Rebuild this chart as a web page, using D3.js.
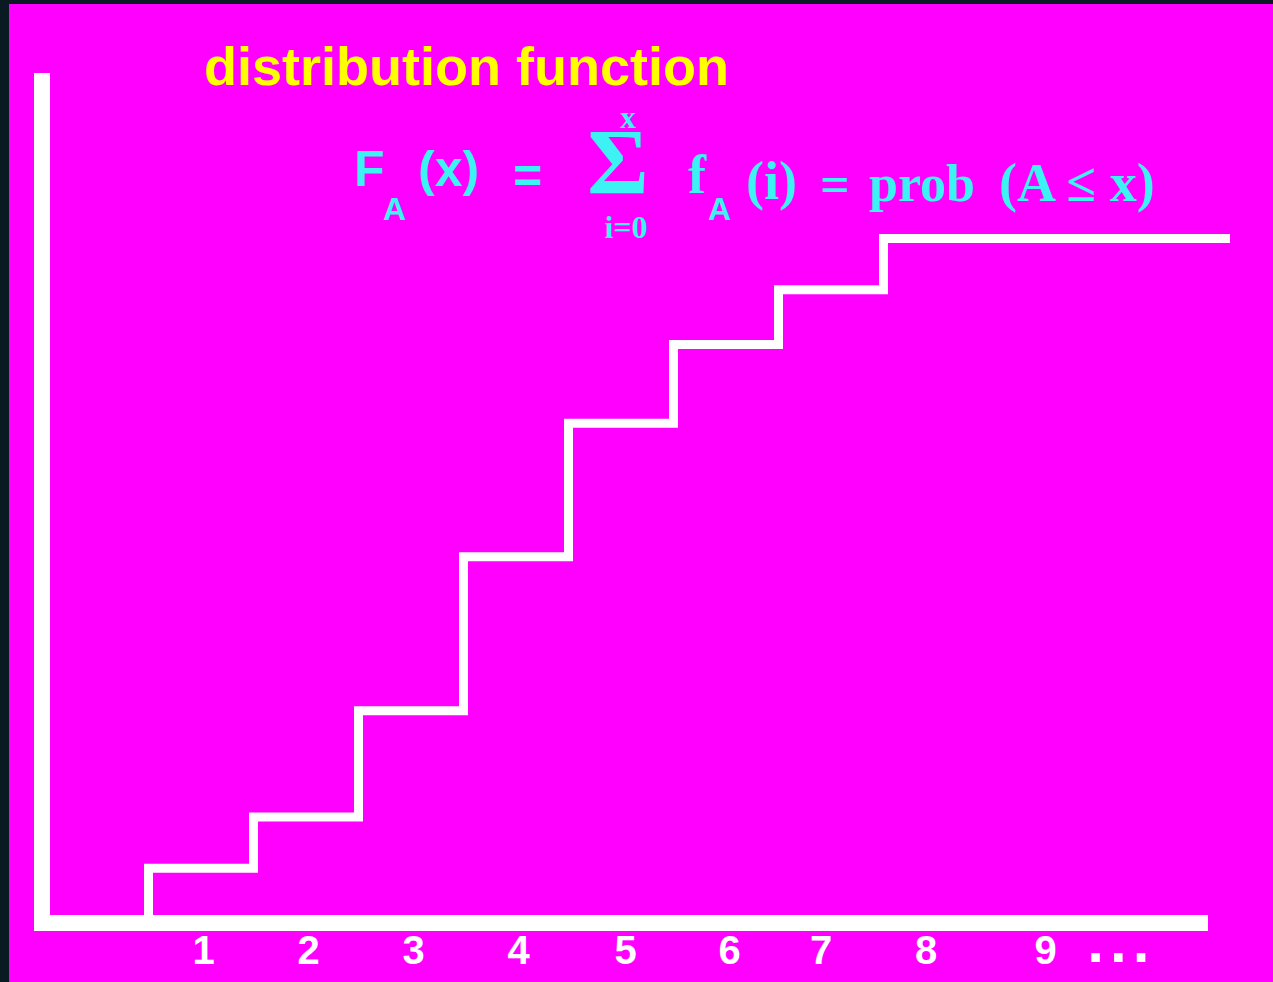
<!DOCTYPE html>
<html>
<head>
<meta charset="utf-8">
<script src="https://cdn.jsdelivr.net/npm/d3@7"></script>
<style>
  body { margin: 0; background: #0a1a22; }
  svg { display: block; }
</style>
</head>
<body>
<svg id="chart" width="1273" height="982"></svg>
<script>
// step positions (between the integer values) and cumulative probability after each step
const stepAt = [0.5, 1.5, 2.5, 3.5, 4.5, 5.5, 6.5, 7.5];
const cumProb = [0.08, 0.155, 0.31, 0.535, 0.73, 0.845, 0.925, 1.0];
const lineEnd = 10.8;

// x-axis labels and where they sit
const tickLabels = ["1", "2", "3", "4", "5", "6", "7", "8", "9", "..."];
const tickPos = [1.02, 2.02, 3.02, 4.02, 5.04, 6.03, 6.9, 7.9, 9.04, 9.76];

const titleText = "distribution function";

const svg = d3.select("#chart");
const W = 1273, H = 982;
const cyan = "#3cf2f2";
const sans = "'Liberation Sans', Arial, sans-serif";
const serif = "'Liberation Serif', 'Times New Roman', serif";

// magenta panel (dark strip left and top)
svg.append("rect")
  .attr("x", 9).attr("y", 4)
  .attr("width", W - 9).attr("height", H - 4)
  .attr("fill", "#ff00ff");

const x = d3.scaleLinear().domain([0.5, 7.5]).range([148.5, 883.5]);
const y = d3.scaleLinear().domain([0, 1]).range([923, 238.5]);

// axis frame placement
const axisX = 42, axisTop = 73, axisRight = 1208;

// step function
const pts = [[stepAt[0], 0]];
stepAt.forEach((s, i) => pts.push([s, cumProb[i]]));
pts.push([lineEnd, cumProb[cumProb.length - 1]]);

const line = d3.line()
  .x((d) => x(d[0]))
  .y((d) => y(d[1]))
  .curve(d3.curveStepAfter);

svg.append("path")
  .datum(pts)
  .attr("d", line)
  .attr("fill", "none")
  .attr("stroke", "#fff")
  .attr("stroke-width", 9)
  .attr("stroke-linejoin", "miter");

// L-shaped axes
svg.append("path")
  .attr("d", `M${axisX},${axisTop}V${y(0)}H${axisRight}`)
  .attr("fill", "none")
  .attr("stroke", "#fff")
  .attr("stroke-width", 16)
  .attr("stroke-linejoin", "miter");

// x labels through a bottom axis
const xAxis = d3.axisBottom(x)
  .tickValues(tickPos)
  .tickFormat((d, i) => tickLabels[i])
  .tickSize(0)
  .tickPadding(13);

const gx = svg.append("g")
  .attr("transform", `translate(0,${y(0)})`)
  .call(xAxis);
gx.select(".domain").remove();
gx.selectAll("text")
  .attr("fill", "#fff")
  .style("font-family", sans)
  .style("font-weight", "bold")
  .style("font-size", "40px");
gx.selectAll(".tick").filter((d, i) => tickLabels[i] === "...")
  .select("text")
  .attr("dy", null)
  .attr("y", 39)
  .style("font-size", "60px")
  .style("letter-spacing", "6px");

// title
svg.append("text")
  .attr("x", 204).attr("y", 85)
  .attr("fill", "#ffff00")
  .style("font-family", sans)
  .style("font-weight", "bold")
  .style("font-size", "54px")
  .text(titleText);

// formula pieces
const formula = [
  { t: "F", x: 354, y: 186, f: sans, s: 50 },
  { t: "A", x: 383, y: 220, f: sans, s: 32 },
  { t: "(x)", x: 418, y: 186, f: sans, s: 50 },
  { t: "=", x: 513, y: 193, f: sans, s: 50 },
  { t: "f", x: 688, y: 193, f: serif, s: 54 },
  { t: "A", x: 708, y: 220, f: sans, s: 32 },
  { t: "(i)", x: 746, y: 199, f: serif, s: 54 },
  { t: "=", x: 820, y: 202, f: serif, s: 52 },
  { t: "prob", x: 869, y: 201, f: serif, s: 52 },
  { t: "(A \u2264 x)", x: 999, y: 201, f: serif, s: 54 }
];

const fg = svg.append("g").attr("fill", cyan).style("font-weight", "bold");

fg.selectAll("text.piece")
  .data(formula)
  .join("text")
  .attr("class", "piece")
  .attr("x", (d) => d.x)
  .attr("y", (d) => d.y)
  .style("font-family", (d) => d.f)
  .style("font-size", (d) => d.s + "px")
  .text((d) => d.t);

// summation sign with its limits, kept in one text element
const sum = fg.append("text")
  .attr("text-anchor", "middle")
  .style("font-family", serif);
sum.append("tspan").attr("x", 618).attr("y", 193)
  .style("font-size", "94px").text("\u03A3");
sum.append("tspan").attr("x", 628).attr("y", 128)
  .style("font-size", "32px").text("x");
sum.append("tspan").attr("x", 626).attr("y", 238)
  .style("font-size", "32px").text("i=0");
</script>
</body>
</html>
